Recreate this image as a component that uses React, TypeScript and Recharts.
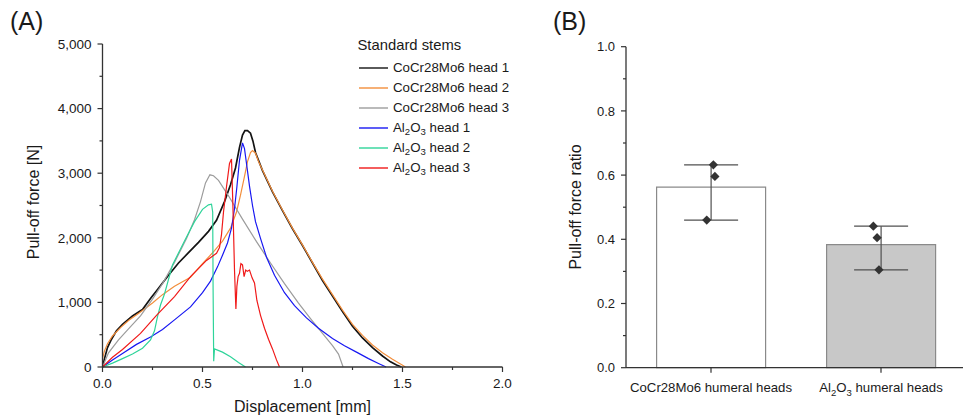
import React from 'react';
import {
  LineChart, Line, XAxis, YAxis, Legend, Label,
  ComposedChart, Bar, Cell, ErrorBar, Scatter,
} from 'recharts';

const FONT = '"Liberation Sans", Arial, sans-serif';
const AXIS = '#333333';
const INK = '#1a1a1a';

// ---- (A) pull-off curves: displacement [mm] / force [N]
const cocr1X = [0, 0.01, 0.025, 0.045, 0.07, 0.1, 0.15, 0.2, 0.24, 0.28, 0.33, 0.38, 0.43, 0.48, 0.53, 0.57, 0.61, 0.64, 0.665, 0.685, 0.7, 0.712, 0.725, 0.74, 0.752, 0.765, 0.8, 0.85, 0.9, 0.95, 1.0, 1.05, 1.1, 1.15, 1.2, 1.25, 1.3, 1.35, 1.4, 1.44, 1.47, 1.495];
const cocr1Y = [0, 130, 300, 430, 560, 660, 790, 890, 1060, 1220, 1420, 1610, 1770, 1930, 2100, 2270, 2560, 2820, 3080, 3400, 3590, 3660, 3660, 3620, 3500, 3320, 3040, 2710, 2420, 2140, 1880, 1610, 1340, 1100, 860, 630, 450, 300, 170, 80, 30, 0];

const cocr2X = [0, 0.01, 0.025, 0.05, 0.09, 0.13, 0.19, 0.25, 0.3, 0.36, 0.44, 0.5, 0.56, 0.6, 0.64, 0.67, 0.69, 0.71, 0.725, 0.74, 0.75, 0.765, 0.78, 0.8, 0.85, 0.9, 0.95, 1.0, 1.05, 1.1, 1.15, 1.2, 1.25, 1.3, 1.35, 1.4, 1.45, 1.49, 1.515];
const cocr2Y = [130, 250, 360, 480, 610, 720, 850, 990, 1120, 1250, 1390, 1600, 1800, 1950, 2150, 2400, 2660, 2950, 3180, 3320, 3350, 3310, 3180, 3050, 2720, 2430, 2150, 1890, 1620, 1360, 1120, 880, 660, 490, 340, 220, 120, 45, 0];

const cocr3X = [0, 0.03, 0.08, 0.13, 0.19, 0.25, 0.3, 0.36, 0.42, 0.46, 0.49, 0.515, 0.537, 0.555, 0.58, 0.63, 0.7, 0.77, 0.84, 0.91, 0.98, 1.04, 1.1, 1.15, 1.18, 1.203];
const cocr3Y = [0, 220, 420, 590, 790, 1050, 1290, 1620, 1990, 2280, 2560, 2850, 2975, 2960, 2890, 2650, 2290, 1940, 1610, 1290, 990, 750, 520, 330, 200, 0];

const alu1X = [0, 0.05, 0.1, 0.17, 0.24, 0.3, 0.36, 0.44, 0.5, 0.54, 0.575, 0.6, 0.625, 0.645, 0.66, 0.672, 0.685, 0.7, 0.71, 0.72, 0.735, 0.75, 0.765, 0.79, 0.82, 0.86, 0.91, 0.96, 1.02, 1.08, 1.15, 1.21, 1.27, 1.33, 1.38, 1.418];
const alu1Y = [0, 110, 210, 350, 465, 580, 730, 930, 1150, 1330, 1550, 1730, 1920, 2150, 2450, 2790, 3200, 3470, 3380, 3150, 2800, 2500, 2250, 1990, 1700, 1420, 1150, 950, 760, 600, 440, 330, 230, 130, 55, 0];

const alu2X = [0, 0.05, 0.1, 0.15, 0.2, 0.24, 0.26, 0.275, 0.29, 0.31, 0.35, 0.41, 0.46, 0.5, 0.53, 0.545, 0.551, 0.553, 0.556, 0.56, 0.6, 0.64, 0.68, 0.715];
const alu2Y = [0, 60, 130, 200, 290, 420, 560, 780, 960, 1130, 1580, 1950, 2250, 2440, 2510, 2520, 2400, 1200, 90, 280, 230, 160, 70, 0];

const alu3X = [0, 0.05, 0.1, 0.19, 0.27, 0.36, 0.44, 0.52, 0.57, 0.585, 0.595, 0.605, 0.62, 0.635, 0.645, 0.652, 0.66, 0.667, 0.672, 0.678, 0.685, 0.692, 0.7, 0.708, 0.716, 0.724, 0.735, 0.748, 0.76, 0.772, 0.79, 0.81, 0.83, 0.85, 0.87, 0.885];
const alu3Y = [0, 150, 270, 520, 800, 1090, 1400, 1650, 1760, 1850, 2050, 2400, 2790, 3150, 3220, 2500, 1500, 900, 1250, 1400, 1450, 1600, 1580, 1400, 1500, 1480, 1500, 1380, 1300, 1030, 800, 600, 430, 280, 110, 0];

const curveNames = ['CoCr28Mo6 head 1', 'CoCr28Mo6 head 2', 'CoCr28Mo6 head 3', 'Al2O3 head 1', 'Al2O3 head 2', 'Al2O3 head 3'];
const curveColors = ['#141414', '#f28e3c', '#9c9c9c', '#1818f2', '#2fd49a', '#f01a1a'];

const xTicksA = [0, 0.25, 0.5, 0.75, 1, 1.25, 1.5, 1.75, 2];
const yTicksA = [0, 500, 1000, 1500, 2000, 2500, 3000, 3500, 4000, 4500, 5000];

// ---- (B) pull-off force ratio per head material
const groups = ['CoCr28Mo6 humeral heads', 'Al2O3 humeral heads'];
const cocrRatio = [0.632, 0.596, 0.46];
const aluRatio = [0.441, 0.405, 0.305];
// where the dots sit across the two categories (0-2 scale)
const cocrSpread = [0.514, 0.523, 0.475];
const aluSpread = [1.455, 1.477, 1.488];
const barFills = ['#ffffff', '#c8c8c8'];
const yTicksB = [0, 0.1, 0.2, 0.3, 0.4, 0.5, 0.6, 0.7, 0.8, 0.9, 1.0];

const toPoints = (xs: number[], ys: number[]) => xs.map((x, i) => ({ x, y: ys[i] }));
const curves = [
  toPoints(cocr1X, cocr1Y), toPoints(cocr2X, cocr2Y), toPoints(cocr3X, cocr3Y),
  toPoints(alu1X, alu1Y), toPoints(alu2X, alu2Y), toPoints(alu3X, alu3Y),
];

const ratioSets = [cocrRatio, aluRatio];
const barData = groups.map((name, i) => {
  const v = ratioSets[i];
  const mean = v.reduce((a, b) => a + b, 0) / v.length;
  return { name, mean, err: [mean - Math.min(...v), Math.max(...v) - mean] };
});
const dotData = [...toPoints(cocrSpread, cocrRatio), ...toPoints(aluSpread, aluRatio)];

// "Al2O3 ..." -> subscripted pieces
const chemSplit = (s: string) => {
  const m = s.match(/^Al2O3(.*)$/);
  return m ? m[1] : null;
};

const ChemHtml = ({ text }: { text: string }) => {
  const rest = chemSplit(text);
  if (rest === null) return <>{text}</>;
  const sub = { fontSize: '0.72em', verticalAlign: '-0.3em', lineHeight: 0 };
  return <>Al<span style={sub}>2</span>O<span style={sub}>3</span>{rest}</>;
};

const ChemSvg = ({ text }: { text: string }) => {
  const rest = chemSplit(text);
  if (rest === null) return <>{text}</>;
  return (
    <>
      <tspan>Al</tspan>
      <tspan dy={4} fontSize="0.72em">2</tspan>
      <tspan dy={-4}>O</tspan>
      <tspan dy={4} fontSize="0.72em">3</tspan>
      <tspan dy={-4}>{rest}</tspan>
    </>
  );
};

// tick renderers: tickSize 5 + tickMargin 6 -> axis sits 11px from label anchor
const TickYA = (props: any) => {
  const { x, y, payload } = props;
  const v = payload.value;
  const major = v % 1000 === 0;
  const ax = x + 11;
  return (
    <g>
      <line x1={ax - (major ? 5 : 3)} x2={ax} y1={y} y2={y} stroke={AXIS} strokeWidth={1.2} />
      {major && (
        <text x={x} y={y} dy="0.36em" textAnchor="end" fontSize={13.5} fill={INK} fontFamily={FONT}>
          {v.toLocaleString('en-US')}
        </text>
      )}
    </g>
  );
};

const TickXA = (props: any) => {
  const { x, y, payload } = props;
  const v = payload.value;
  const major = Math.abs(v * 2 - Math.round(v * 2)) < 1e-6;
  const ay = y - 11;
  return (
    <g>
      <line x1={x} x2={x} y1={ay} y2={ay + (major ? 5 : 3)} stroke={AXIS} strokeWidth={1.2} />
      {major && (
        <text x={x} y={y} dy="0.71em" textAnchor="middle" fontSize={13.5} fill={INK} fontFamily={FONT}>
          {v.toFixed(1)}
        </text>
      )}
    </g>
  );
};

const TickYB = (props: any) => {
  const { x, y, payload } = props;
  const v = payload.value;
  const major = Math.round(v * 10) % 2 === 0;
  const ax = x + 11;
  return (
    <g>
      <line x1={ax - (major ? 5 : 3)} x2={ax} y1={y} y2={y} stroke={AXIS} strokeWidth={1.2} />
      {major && (
        <text x={x} y={y} dy="0.36em" textAnchor="end" fontSize={13} fill={INK} fontFamily={FONT}>
          {v.toFixed(1)}
        </text>
      )}
    </g>
  );
};

const TickXB = (props: any) => {
  const { x, y, payload } = props;
  return (
    <text x={x} y={y} dy="0.71em" textAnchor="middle" fontSize={13.2} fill={INK} fontFamily={FONT}>
      <ChemSvg text={payload.value} />
    </text>
  );
};

const Diamond = (props: any) => {
  const { cx, cy } = props;
  const r = 4.6;
  return <path d={`M${cx},${cy - r}L${cx + r},${cy}L${cx},${cy + r}L${cx - r},${cy}Z`} fill="#333" />;
};

// legend keeps the series order of the source figure
const LegendA = () => (
  <div style={{ fontFamily: FONT, color: INK }}>
    <div style={{ fontSize: 14.8, lineHeight: '20px', height: 23 }}>Standard stems</div>
    {curveNames.map((name, i) => (
      <div key={name} style={{ display: 'flex', alignItems: 'center', height: 20 }}>
        <span style={{ width: 29, height: 2, background: curveColors[i], opacity: 0.7, marginLeft: 1.5, marginRight: 5 }} />
        <span style={{ fontSize: 13.3, lineHeight: '20px', whiteSpace: 'nowrap' }}>
          <ChemHtml text={name} />
        </span>
      </div>
    ))}
  </div>
);

// axis titles placed in chart coordinates
const axisTitle = (text: string, x: number, y: number, rotate: boolean) => () => (
  <text
    x={x}
    y={y}
    dy={rotate ? '0.35em' : 0}
    textAnchor="middle"
    fontSize={16}
    fill={INK}
    fontFamily={FONT}
    transform={rotate ? `rotate(-90, ${x}, ${y})` : undefined}
  >
    {text}
  </text>
);

const App: React.FC = () => {
  return (
    <div style={{ position: 'fixed', left: 0, top: 0, width: 963, height: 418, overflow: 'hidden', background: '#fff', fontFamily: FONT }}>
      <div style={{ position: 'absolute', left: 10, top: 9, fontSize: 25, lineHeight: '25px', color: INK }}>(A)</div>
      <div style={{ position: 'absolute', left: 553, top: 9, fontSize: 25, lineHeight: '25px', color: INK }}>(B)</div>

      {/* Panel A */}
      <div style={{ position: 'absolute', left: 0, top: 0 }}>
        <LineChart width={530} height={418} margin={{ top: 44, right: 27.5, bottom: 0, left: 42.5 }}>
          <XAxis
            type="number"
            dataKey="x"
            domain={[0, 2]}
            ticks={xTicksA}
            interval={0}
            allowDataOverflow
            height={51}
            tickSize={5}
            tickMargin={6}
            tickLine={false}
            tick={TickXA}
            axisLine={{ stroke: AXIS, strokeWidth: 1.3 }}
          >
            <Label content={axisTitle('Displacement [mm]', 302.5, 412, false)} />
          </XAxis>
          <YAxis
            type="number"
            domain={[0, 5000]}
            ticks={yTicksA}
            interval={0}
            width={60}
            tickSize={5}
            tickMargin={6}
            tickLine={false}
            tick={TickYA}
            axisLine={{ stroke: AXIS, strokeWidth: 1.3 }}
          >
            <Label content={axisTitle('Pull-off force [N]', 33.5, 202, true)} />
          </YAxis>
          {curves.map((pts, i) => (
            <Line
              key={curveNames[i]}
              data={pts}
              dataKey="y"
              name={curveNames[i]}
              type="linear"
              stroke={curveColors[i]}
              strokeWidth={i === 0 ? 1.7 : 1.2}
              dot={false}
              activeDot={false}
              isAnimationActive={false}
            />
          ))}
          <Legend
            layout="vertical"
            align="center"
            verticalAlign="middle"
            content={LegendA}
            wrapperStyle={{ position: 'absolute', left: 357.5, top: 35, width: 172, height: 'auto' }}
          />
        </LineChart>
      </div>

      {/* Panel B */}
      <div style={{ position: 'absolute', left: 540, top: 0 }}>
        <ComposedChart
          width={427}
          height={418}
          data={barData}
          margin={{ top: 46.7, right: 1, bottom: 0, left: 26 }}
          barCategoryGap="18%"
        >
          <XAxis
            dataKey="name"
            height={50.3}
            interval={0}
            tickSize={5}
            tickMargin={10}
            tick={TickXB}
            tickLine={{ stroke: AXIS, strokeWidth: 1.2 }}
            axisLine={{ stroke: AXIS, strokeWidth: 1.3 }}
          />
          <XAxis xAxisId="dots" type="number" dataKey="x" domain={[0, 2]} hide />
          <YAxis
            type="number"
            domain={[0, 1]}
            ticks={yTicksB}
            interval={0}
            width={60}
            tickSize={5}
            tickMargin={6}
            tickLine={false}
            tick={TickYB}
            axisLine={{ stroke: AXIS, strokeWidth: 1.3 }}
          >
            <Label content={axisTitle('Pull-off force ratio', 35, 207, true)} />
          </YAxis>
          <Bar dataKey="mean" stroke="#8a8a8a" strokeWidth={1.2} isAnimationActive={false}>
            {barData.map((d, i) => (
              <Cell key={d.name} fill={barFills[i]} />
            ))}
            <ErrorBar dataKey="err" direction="y" width={27} stroke="#505050" strokeWidth={1.2} />
          </Bar>
          <Scatter data={dotData} dataKey="y" xAxisId="dots" shape={Diamond} isAnimationActive={false} />
        </ComposedChart>
      </div>
    </div>
  );
};

export default App;
